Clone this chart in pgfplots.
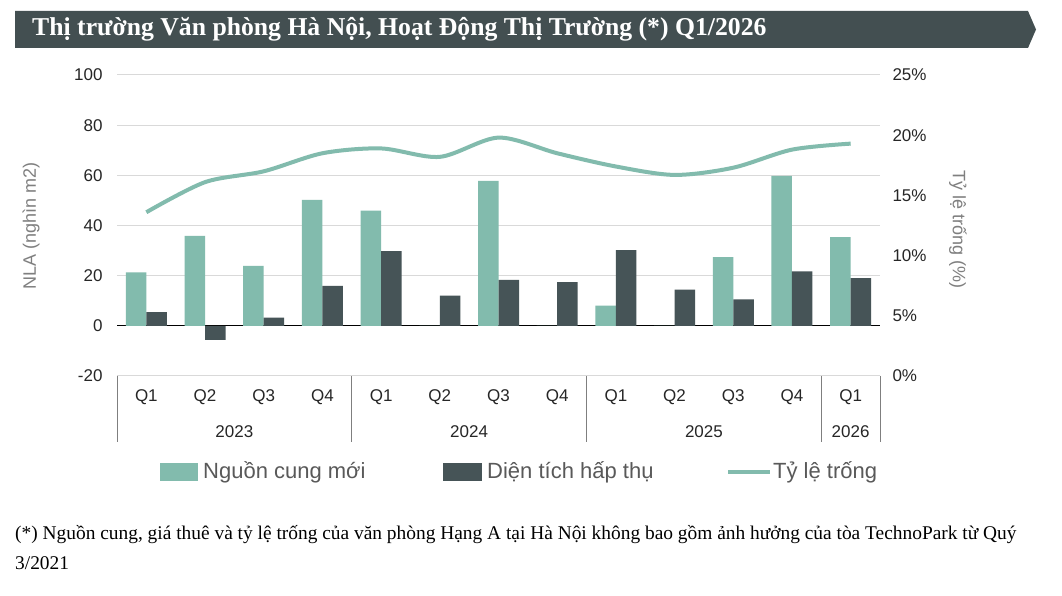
\documentclass[border=0pt]{standalone}
\usepackage{fontspec}
\setmainfont{Liberation Serif}
\newfontfamily\arial{Liberation Sans}
\usepackage{pgfplots}
\pgfplotsset{compat=1.18}
\definecolor{teal1}{HTML}{82BBAD}
\definecolor{dark1}{HTML}{465457}
\definecolor{titlebg}{HTML}{434F51}
\definecolor{gridc}{HTML}{D9D9D9}
\definecolor{ticktxt}{HTML}{262626}
\definecolor{labtxt}{HTML}{7F7F7F}
\definecolor{legtxt}{HTML}{595959}
\definecolor{sepc}{HTML}{7F7F7F}

\begin{document}
\begin{tikzpicture}
\begin{scope}[x=1pt,y=1pt]
\useasboundingbox (0,0) rectangle (1062,596);
\fill[white] (0,0) rectangle (1062,596);
% title bar
\fill[titlebg] (15,585) -- (1028,585) -- (1036,566.5) -- (1028,548) -- (15,548) -- cycle;
\node[anchor=west, text=white, inner sep=0pt, font=\bfseries\fontsize{25.7}{30}\selectfont] at (32,566.5) {Thị trường Văn phòng Hà Nội, Hoạt Động Thị Trường (*) Q1/2026};
\end{scope}

\begin{axis}[
  at={(117pt,220pt)}, anchor=south west, scale only axis,
  width=763pt, height=301pt,
  xmin=-0.5, xmax=12.5, ymin=-20, ymax=100,
  ytick={-20,20,40,60,80,100},
  extra y ticks={0},
  extra y tick style={grid style={black, line width=1pt}},
  ymajorgrids, grid style={gridc, line width=1pt},
  axis line style={draw=none},
  major tick length=0pt,
  xtick={0,...,12},
  xticklabels={Q1,Q2,Q3,Q4,Q1,Q2,Q3,Q4,Q1,Q2,Q3,Q4,Q1},
  xticklabel style={anchor=center, yshift=-21pt, font=\arial\fontsize{17}{20}\selectfont, text=ticktxt},
  yticklabel style={font=\arial\fontsize{17}{20}\selectfont, text=ticktxt, xshift=-11pt},
  /pgf/number format/assume math mode=true,
  ybar=0pt, bar width=20.5pt,
  clip=false,
]
\addplot[fill=teal1, draw=none] coordinates {(0,21.3) (1,35.9) (2,23.9) (3,50.2) (4,45.9) (5,0) (6,57.8) (7,0) (8,8.1) (9,0) (10,27.4) (11,59.8) (12,35.4)};
\addplot[fill=dark1, draw=none] coordinates {(0,5.5) (1,-5.6) (2,3.3) (3,15.9) (4,29.8) (5,12.0) (6,18.3) (7,17.4) (8,30.2) (9,14.4) (10,10.5) (11,21.7) (12,19.0)};
\end{axis}

\begin{axis}[
  at={(117pt,220pt)}, anchor=south west, scale only axis,
  width=763pt, height=301pt,
  xmin=-0.5, xmax=12.5, ymin=0, ymax=25,
  axis y line*=right, axis x line=none,
  axis line style={draw=none},
  major tick length=0pt,
  ytick={0,5,10,15,20,25},
  yticklabel={\pgfmathprintnumber{\tick}\%},
  yticklabel style={font=\arial\fontsize{17}{20}\selectfont, text=ticktxt, xshift=9pt},
  /pgf/number format/assume math mode=true,
  clip=false,
]
\addplot[teal1, line width=4pt, smooth] coordinates {(0,13.6) (1,16.1) (2,17.0) (3,18.5) (4,18.9) (5,18.2) (6,19.8) (7,18.5) (8,17.4) (9,16.7) (10,17.3) (11,18.8) (12,19.3)};
\end{axis}

\begin{scope}[x=1pt,y=1pt]
% axis labels
\node[rotate=90, font=\arial\fontsize{18}{20}\selectfont, text=labtxt] at (31,370) {NLA (nghìn m2)};
\node[rotate=-90, font=\arial\fontsize{18}{20}\selectfont, text=labtxt] at (958,366) {Tỷ lệ trống (\%)};

% category separators
\foreach \xx in {117,351.8,586.5,821.3,880} \draw[sepc, line width=1pt] (\xx,220) -- (\xx,154);
\draw[gridc, line width=1pt] (117,220) -- (880,220);
% year labels
\foreach \xx/\yr in {234.4/2023,469.1/2024,703.9/2025,850.6/2026}
  \node[font=\arial\fontsize{17}{20}\selectfont, text=ticktxt] at (\xx,164) {\yr};

% legend
\fill[teal1] (160,115) rectangle (198,133);
\node[anchor=west, inner sep=0pt, font=\arial\fontsize{22}{24}\selectfont, text=legtxt] at (203,124) {Nguồn cung mới};
\fill[dark1] (443,115) rectangle (482,133);
\node[anchor=west, inner sep=0pt, font=\arial\fontsize{22}{24}\selectfont, text=legtxt] at (487,124) {Diện tích hấp thụ};
\draw[teal1, line width=4pt] (728,124) -- (770,124);
\node[anchor=west, inner sep=0pt, font=\arial\fontsize{22}{24}\selectfont, text=legtxt] at (773,124) {Tỷ lệ trống};

% footnote
\node[anchor=west, inner sep=0pt, font=\fontsize{19.4}{22}\selectfont] at (15,61) {(*) Nguồn cung, giá thuê và tỷ lệ trống của văn phòng Hạng A tại Hà Nội không bao gồm ảnh hưởng của tòa TechnoPark từ Quý};
\node[anchor=west, inner sep=0pt, font=\fontsize{19.4}{22}\selectfont] at (15,33) {3/2021};
\end{scope}
\end{tikzpicture}
\end{document}
